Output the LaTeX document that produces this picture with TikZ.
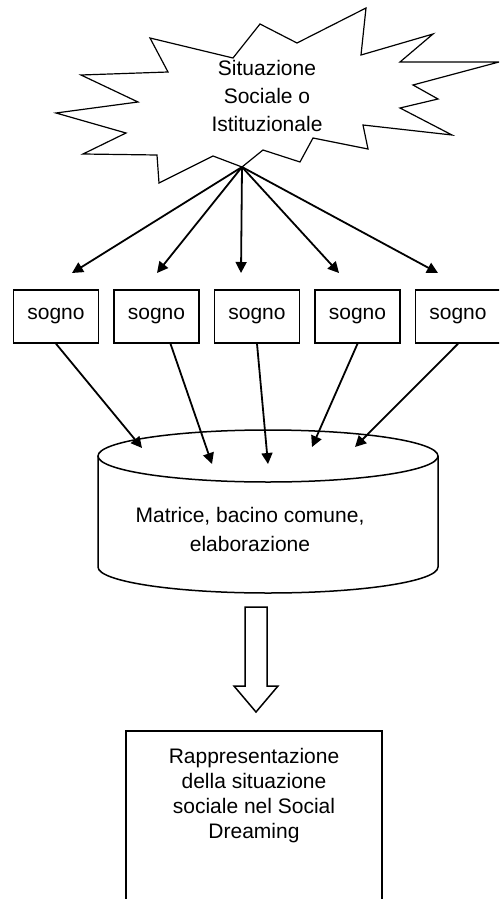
\documentclass[tikz,border=0pt]{standalone}
\usepackage{fontspec}
\setmainfont{Liberation Sans}
\usetikzlibrary{arrows.meta,positioning}

\begin{document}
\begin{tikzpicture}[x=0.5pt,y=-0.5pt,
  box/.style={draw,line width=0.75pt,minimum width=42.5pt,minimum height=26.5pt,inner sep=0pt,
    font=\fontsize{10.5}{14}\selectfont},
  link/.style={line width=0.9pt,-{Triangle[length=5.5pt,width=5.5pt]}},
  txt/.style={align=center,inner sep=0pt}]
\clip (0,0) rectangle (499,899);
\draw[line width=0.6pt] (150,38) -- (233,58) -- (260,24) -- (297,43) -- (366,8) -- (361,55)
  -- (433,34) -- (400,62) -- (499,62) -- (413,85) -- (438,99) -- (400,108) -- (452,135)
  -- (363,125) -- (368,149) -- (313,138) -- (300,162) -- (263,150) -- (242,167)
  -- (213,156) -- (159,183) -- (157,155) -- (83,154) -- (126,133) -- (56,113)
  -- (138,102) -- (81,75) -- (168,72) -- cycle;
\node[txt,font=\fontsize{10.5}{14}\selectfont] (situazione) at (267,96)
  {Situazione\\Sociale o\\Istituzionale};
\coordinate (burst) at (242,167);

\node[box] (s1) at (56,316.5) {sogno};
\node[box,right=7pt of s1] (s2) {sogno};
\node[box,right=7pt of s2] (s3) {sogno};
\node[box,right=7pt of s3] (s4) {sogno};
\node[box,right=7pt of s4] (s5) {sogno};

\foreach \i/\x in {1/72,2/157,3/241,4/339,5/438}{
  \coordinate (t\i) at (\x,273);
  \draw[link] (burst) -- (t\i);
}

% cilindro
\draw[line width=0.75pt] (268,456) ellipse [x radius=85pt,y radius=13pt];
\draw[line width=0.75pt] (98,456) -- (98,567)
  arc[start angle=180,end angle=360,x radius=85pt,y radius=13pt] -- (438,456);
\node[txt,font=\fontsize{10.5}{14.5}\selectfont] (matrice) at (250,529)
  {Matrice, bacino comune,\\elaborazione};

\foreach \i/\x/\y in {1/142/448,2/212/464,3/268/464,4/312/447,5/355/447}
  \coordinate (m\i) at (\x,\y);
\draw[link] (s1.south) -- (m1);
\draw[link] ([xshift=7pt]s2.south) -- (m2);
\draw[link] (s3.south) -- (m3);
\draw[link] (s4.south) -- (m4);
\draw[link] (s5.south) -- (m5);

\draw[line width=0.75pt] (245,607) -- (267,607) -- (267,686) -- (278,686) -- (256,712)
  -- (234,686) -- (245,686) -- cycle;

\node[draw,line width=0.75pt,minimum width=128pt,minimum height=95pt,anchor=north] (rappr) at (254,730) {};
\node[txt,font=\fontsize{10.5}{12.5}\selectfont,below=9pt of rappr.north] (rapprtxt)
  {Rappresentazione\\della situazione\\sociale nel Social\\Dreaming};
\end{tikzpicture}
\end{document}
